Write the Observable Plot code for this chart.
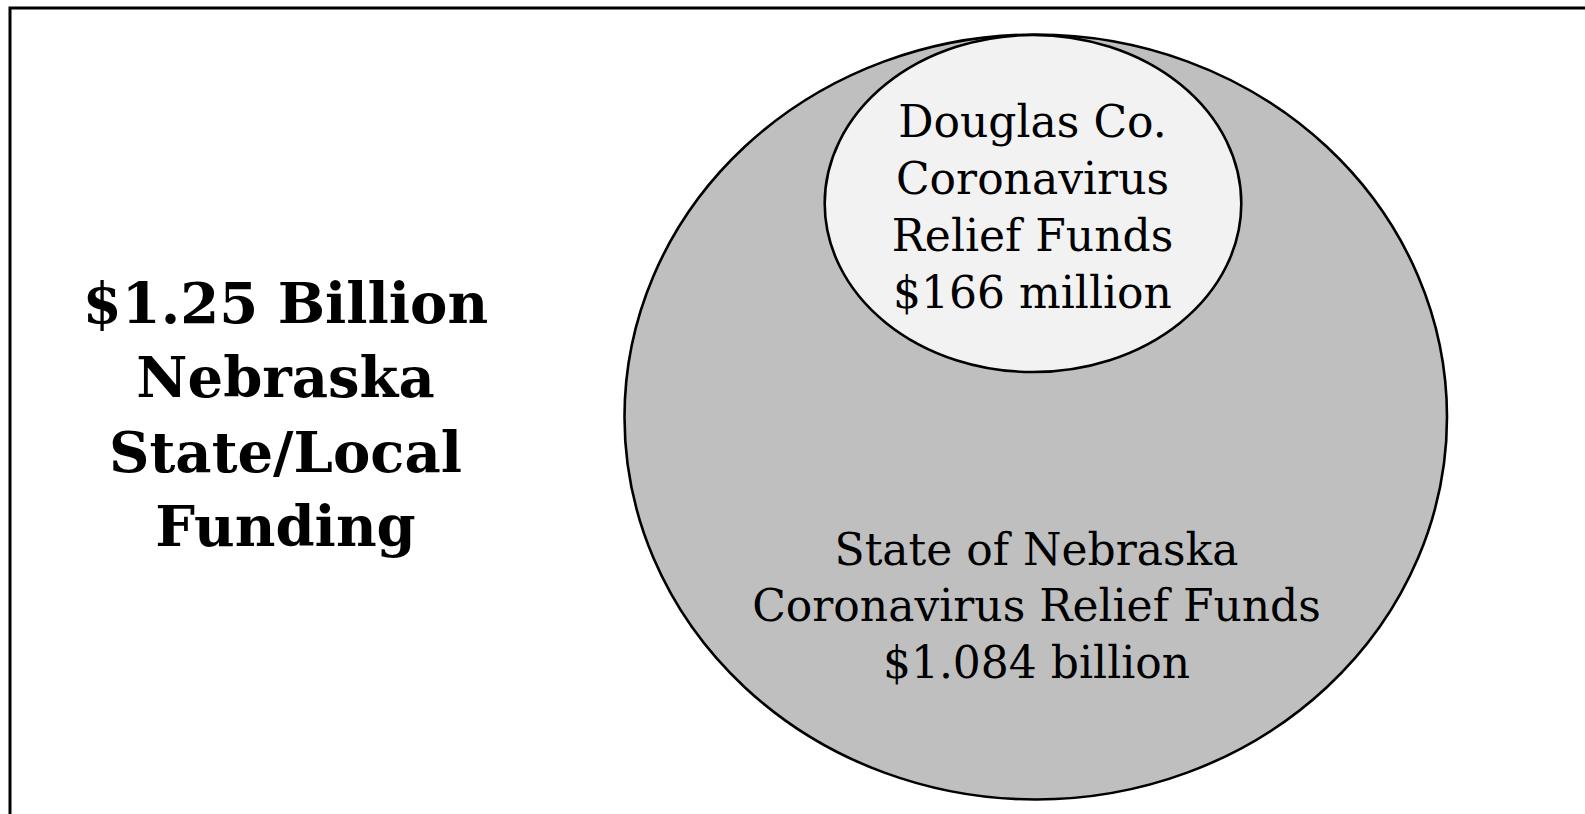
<!DOCTYPE html>
<html>
<head>
<meta charset="utf-8">
<script src="https://cdn.jsdelivr.net/npm/d3@7"></script>
<script src="https://cdn.jsdelivr.net/npm/@observablehq/plot@0.6"></script>
<style>
  html, body { margin: 0; padding: 0; overflow: hidden; background: #ffffff; }
  #chart svg { display: block; }
</style>
</head>
<body>
<div id="chart"></div>
<script>
// ---- data ----
const titleLines = ["$1.25 Billion", "Nebraska", "State/Local", "Funding"];
const regions = ["State of Nebraska", "Douglas Co."];
const amountsMillions = [1084, 166];
const douglasLines = ["Douglas Co.", "Coronavirus", "Relief Funds", "$166 million"];
const stateLines = ["State of Nebraska", "Coronavirus Relief Funds", "$1.084 billion"];

// ---- layout (pixel space of the 1585x814 picture) ----
const W = 1585, H = 814;
const FONT = "DejaVu Serif";
const shapes = [
  {cx: 1035.75, cy: 417, rx: 411.25, ry: 382.5, fill: "#bfbfbf"},
  {cx: 1033, cy: 203.5, rx: 208.3, ry: 168.5, fill: "#f2f2f2"}
];
const ellipseData = regions.map((r, i) => ({region: r, amount: amountsMillions[i], ...shapes[i]}));

const titleText = titleLines.map((t, i) => ({t, x: 285, y: 322 + i * 74.5}));
const douglasText = douglasLines.map((t, i) => ({t, x: 1032, y: 136 + i * 57}));
const stateText = stateLines.map((t, i) => ({t, x: 1036, y: 564 + i * 56.5}));

function ellipseMark(data) {
  return (index, scales) => {
    const sx = (scales && scales.x) || (v => v);
    const sy = (scales && scales.y) || (v => v);
    const g = d3.create("svg:g");
    for (const d of data) {
      g.append("ellipse")
        .attr("cx", sx(d.cx))
        .attr("cy", sy(d.cy))
        .attr("rx", Math.abs(sx(d.cx + d.rx) - sx(d.cx)))
        .attr("ry", Math.abs(sy(d.cy + d.ry) - sy(d.cy)))
        .attr("fill", d.fill)
        .attr("stroke", "#000")
        .attr("stroke-width", 2.6)
        .append("title").text(`${d.region}: $${d.amount} million`);
    }
    return g.node();
  };
}

const chart = Plot.plot({
  width: W,
  height: H,
  margin: 0,
  style: {background: "#ffffff", overflow: "hidden", fontFamily: FONT},
  x: {domain: [0, W], range: [0, W], axis: null},
  y: {domain: [0, H], range: [0, H], axis: null},
  marks: [
    Plot.frame({stroke: "#000", strokeWidth: 3, insetLeft: 9.5, insetTop: 7.5, insetRight: -10, insetBottom: -10}),
    ellipseMark(ellipseData),
    Plot.text(titleText, {x: "x", y: "y", text: "t", lineAnchor: "bottom", textAnchor: "middle",
      fontSize: 56, fontWeight: "bold", fontFamily: FONT, fill: "#000"}),
    Plot.text(douglasText, {x: "x", y: "y", text: "t", lineAnchor: "bottom", textAnchor: "middle",
      fontSize: 44, fontFamily: FONT, fill: "#000"}),
    Plot.text(stateText, {x: "x", y: "y", text: "t", lineAnchor: "bottom", textAnchor: "middle",
      fontSize: 44, fontFamily: FONT, fill: "#000"})
  ]
});
document.getElementById("chart").appendChild(chart);
</script>
</body>
</html>
